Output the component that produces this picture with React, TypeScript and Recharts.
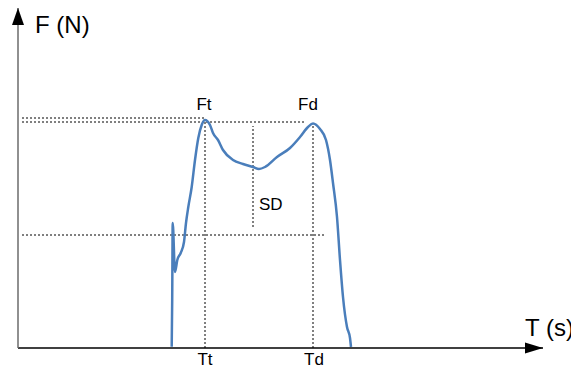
import React from "react";
import { LineChart, Line, XAxis, YAxis, ReferenceLine, ReferenceDot } from "recharts";

// Force–time curve (arbitrary units)
const T_VALUES = [153.7, 154.2, 154.7, 157, 159.3, 162.7, 166, 168, 170.3, 173.7, 177, 180.3, 183.7, 187, 192, 195, 200, 205, 215, 225, 235, 241, 247, 259, 272, 282, 290, 295, 302, 308, 312, 315, 319, 322, 325, 329, 332, 333];
const F_VALUES = [1.3, 48, 125, 76, 88, 95, 106, 125, 141, 161, 188, 210, 223, 228, 223, 215, 208, 198, 188, 184, 181, 179, 181, 191, 200, 211, 221, 224.5, 219, 208, 188, 165, 131, 88, 51, 21, 10, 1];

// Characteristic values
const FT = 230; // peak force (first)
const FD = 226; // second peak force
const TT = 187; // time of Ft
const TD = 295; // time of Fd
const SD_T = 235; // SD marker time
const SD_TOP = 222;
const SD_BOTTOM = 121;
const F_LOW = 113;
const LINE_START = 4;
const LOW_END = 307;
const FD_LINE_END = 287;

const X_MAX = 525;
const Y_MAX = 340;

const AXIS_LABELS = { y: "F (N)", x: "T (s)" };
const POINT_LABELS = { ft: "Ft", fd: "Fd", sd: "SD", tt: "Tt", td: "Td" };

const data = T_VALUES.map((t, i) => ({ t, f: F_VALUES[i] }));

const FONT = "'Liberation Sans', Arial, sans-serif";

const textShape = (label: string, dx: number, dy: number, size: number, anchor: string) => (p: any) => (
  <text x={p.cx + dx} y={p.cy + dy} fontFamily={FONT} fontSize={size} fill="#000" textAnchor={anchor}>
    {label}
  </text>
);

const dash = { stroke: "#000", strokeWidth: 1, strokeDasharray: "2 2" };

export default function App() {
  return (
    <LineChart width={571} height={363} data={data} margin={{ top: 0, right: 36, bottom: 8, left: 0 }}>
      <XAxis
        dataKey="t"
        type="number"
        domain={[0, X_MAX]}
        allowDataOverflow
        tick={false}
        tickLine={false}
        height={15}
        axisLine={{ stroke: "#000", strokeWidth: 1.5 }}
      />
      <YAxis
        type="number"
        domain={[0, Y_MAX]}
        allowDataOverflow
        tick={false}
        tickLine={false}
        width={10}
        axisLine={{ stroke: "#6b6b6b", strokeWidth: 1.5 }}
      />
      <ReferenceLine segment={[{ x: LINE_START, y: FT }, { x: TT, y: FT }]} {...dash} />
      <ReferenceLine segment={[{ x: LINE_START, y: FD }, { x: FD_LINE_END, y: FD }]} {...dash} />
      <ReferenceLine segment={[{ x: LINE_START, y: F_LOW }, { x: LOW_END, y: F_LOW }]} {...dash} />
      <ReferenceLine segment={[{ x: TT, y: 0 }, { x: TT, y: FD }]} {...dash} />
      <ReferenceLine segment={[{ x: TD, y: 0 }, { x: TD, y: 224 }]} {...dash} />
      <ReferenceLine segment={[{ x: SD_T, y: SD_BOTTOM }, { x: SD_T, y: SD_TOP }]} {...dash} />
      <Line
        dataKey="f"
        type="monotone"
        stroke="#4a7ebb"
        strokeWidth={2.5}
        dot={false}
        isAnimationActive={false}
      />
      {/* axis arrows */}
      <ReferenceDot
        x={X_MAX}
        y={0}
        r={0}
        ifOverflow="visible"
        shape={(p: any) => <path d={`M${p.cx},${p.cy} L${p.cx - 18},${p.cy - 5.5} L${p.cx - 18},${p.cy + 5.5} Z`} fill="#000" />}
      />
      <ReferenceDot
        x={0}
        y={Y_MAX}
        r={0}
        ifOverflow="visible"
        shape={(p: any) => <path d={`M${p.cx},${p.cy} L${p.cx - 6},${p.cy + 17} L${p.cx + 6},${p.cy + 17} Z`} fill="#000" />}
      />
      {/* labels */}
      <ReferenceDot x={0} y={Y_MAX} r={0} ifOverflow="visible" shape={textShape(AXIS_LABELS.y, 17, 25, 24, "start")} />
      <ReferenceDot x={X_MAX} y={0} r={0} ifOverflow="visible" shape={textShape(AXIS_LABELS.x, -18, -12, 24, "start")} />
      <ReferenceDot x={TT} y={FT} r={0} ifOverflow="visible" shape={textShape(POINT_LABELS.ft, -1, -8, 17, "middle")} />
      <ReferenceDot x={TD} y={FD} r={0} ifOverflow="visible" shape={textShape(POINT_LABELS.fd, -5, -12, 17, "middle")} />
      <ReferenceDot x={SD_T} y={138} r={0} ifOverflow="visible" shape={textShape(POINT_LABELS.sd, 6, 0, 17, "start")} />
      <ReferenceDot x={TT} y={0} r={0} ifOverflow="visible" shape={textShape(POINT_LABELS.tt, 0, 17, 17, "middle")} />
      <ReferenceDot x={TD} y={0} r={0} ifOverflow="visible" shape={textShape(POINT_LABELS.td, 1, 17, 17, "middle")} />
    </LineChart>
  );
}
